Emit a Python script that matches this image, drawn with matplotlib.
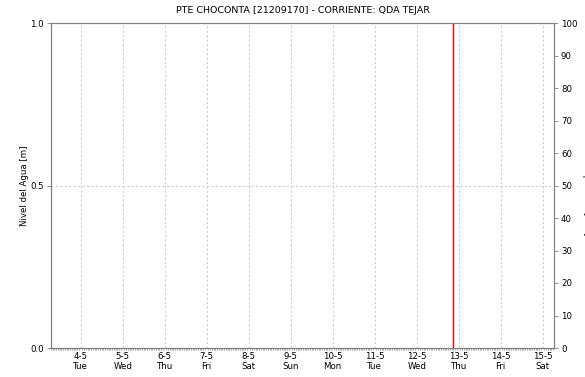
import numpy as np
import pandas as pd
import matplotlib
matplotlib.use("Agg")
import matplotlib.pyplot as plt
import matplotlib.dates as mdates

# time window of the station plot (no readings in the window)
start_time = "2021-05-03 07:00"
end_time = "2021-05-15 06:30"
now_time = "2021-05-12 21:00"

day_ticks = pd.date_range("2021-05-04", "2021-05-15", freq="D")
day_labels = ["4-5", "5-5", "6-5", "7-5", "8-5", "9-5", "10-5", "11-5", "12-5", "13-5", "14-5", "15-5"]
weekday_labels = ["Tue", "Wed", "Thu", "Fri", "Sat", "Sun", "Mon", "Tue", "Wed", "Thu", "Fri", "Sat"]

level_ticks = [0.0, 0.5, 1.0]
level_labels = ["0.0", "0.5", "1.0"]
rain_ticks = [0, 10, 20, 30, 40, 50, 60, 70, 80, 90, 100]

title = "PTE CHOCONTA [21209170] - CORRIENTE: QDA TEJAR"

plt.rcParams['font.family'] = ['DejaVu Sans']
fs = 6.2
gray = "#808080"

fig = plt.figure(figsize=(5.85, 3.77), dpi=100)
ax = fig.add_axes([51 / 585, 1 - 348 / 377, (554 - 51) / 585, (348 - 23) / 377])
ax2 = ax.twinx()

t0 = pd.Timestamp(start_time)
t1 = pd.Timestamp(end_time)
ax.set_xlim(t0, t1)
ax.set_ylim(0, 1)
ax2.set_ylim(0, 100)

# day grid
for d in day_ticks:
    ax.axvline(d, color="#cccccc", lw=0.8, ls=(0, (2, 2)), zorder=0)
ax.axhline(0.5, color="#cccccc", lw=0.8, ls=(0, (2, 2)), zorder=0)

# current time marker
ax.axvline(pd.Timestamp(now_time), color="#ff0000", lw=1.0, zorder=3)

ax.set_xticks(day_ticks)
ax.set_xticklabels([f"{a}\n{b}" for a, b in zip(day_labels, weekday_labels)],
                   fontsize=fs, linespacing=1.15)
ax.xaxis.set_minor_locator(mdates.HourLocator(interval=1))
ax.tick_params(axis="x", which="major", length=0, pad=3)
ax.tick_params(axis="x", which="minor", length=1.5, width=0.5, color=gray)

ax.set_yticks(level_ticks)
ax.set_yticklabels(level_labels, fontsize=fs)
ax.tick_params(axis="y", length=3, width=0.6, color=gray, pad=2)

ax2.set_yticks(rain_ticks)
ax2.set_yticklabels([str(v) for v in rain_ticks], fontsize=fs)
ax2.tick_params(axis="y", length=3, width=0.6, color=gray, pad=2)

for a in (ax, ax2):
    for s in a.spines.values():
        s.set_color(gray)
        s.set_linewidth(0.8)

ax.set_ylabel("Nivel del Agua [m]", fontsize=fs, labelpad=1)
ax.set_title(title, fontsize=6.8, pad=7)

# right label, mostly outside the image as in the source chart
fig.text(582 / 585, 1 - 195 / 377, "Precipitación [mm]", fontsize=fs,
         rotation=270, ha="left", va="center")

fig.savefig("out.png", dpi=100)
